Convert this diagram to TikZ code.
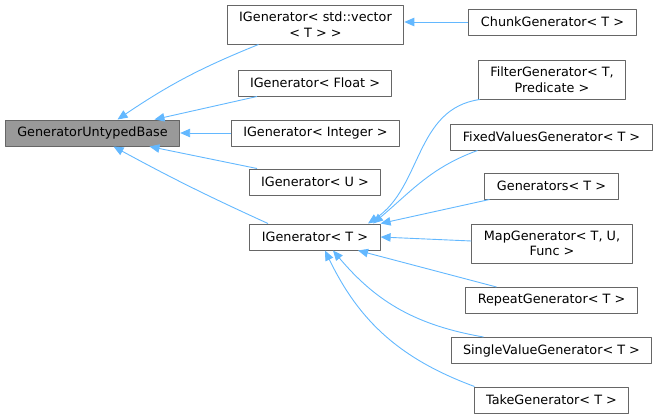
\documentclass[tikz,border=0pt]{standalone}
\usepackage{fontspec}
\setmainfont{DejaVu Sans}
\usetikzlibrary{arrows.meta, positioning, calc}

\definecolor{edgeblue}{HTML}{63B8FF}
\definecolor{boxborder}{HTML}{666666}
\definecolor{basefill}{HTML}{999999}

\begin{document}
\begin{tikzpicture}[x=1pt, y=1pt, >={Triangle[length=10pt, width=8.5pt]}, line join=round]
    % Styles
    \tikzset{
        classbox/.style={rectangle, draw=boxborder, line width=1pt, fill=white, text=black,
            inner xsep=12pt, minimum height=26pt, align=center, font=\fontsize{12.8}{15.5}\selectfont},
        basebox/.style={classbox, fill=basefill},
        tallbox/.style={classbox, minimum height=39pt},
        inherit/.style={<-, draw=edgeblue, line width=0.9pt}
    }

    \useasboundingbox (0,0) rectangle (659,-418);

    % --- Root class ---
    \node[basebox] (base) at (92.5,-133) {GeneratorUntypedBase};

    % --- IGenerator specialisations ---
    \node[tallbox]  (vec)     at (315.5,-24.5) {IGenerator< std::vector\\< T > >};
    \node[classbox] (float)   at (315,-83)     {IGenerator< Float >};
    \node[classbox] (integer) at (315.5,-133)  {IGenerator< Integer >};
    \node[classbox] (ugen)    at (315,-182)    {IGenerator< U >};
    \node[classbox] (tgen)    at (315,-237)    {IGenerator< T >};

    % --- Concrete generators ---
    \node[classbox] (chunk)  at (552.5,-22)   {ChunkGenerator< T >};
    \node[tallbox]  (filter) at (552,-79.5)   {FilterGenerator< T,\\Predicate >};
    \node[classbox] (fixed)  at (551.5,-137)  {FixedValuesGenerator< T >};
    \node[classbox] (gens)   at (551.5,-186)  {Generators< T >};
    \node[tallbox]  (map)    at (552,-243.5)  {MapGenerator< T, U,\\Func >};
    \node[classbox] (rep)    at (551.5,-300.5) {RepeatGenerator< T >};
    \node[classbox] (single) at (551.5,-350.5) {SingleValueGenerator< T >};
    \node[classbox] (take)   at (551.5,-400)  {TakeGenerator< T >};

    % --- Edges into GeneratorUntypedBase ---
    \draw[inherit] ([xshift=25pt]base.north) to[bend left=6] ([xshift=-57pt]vec.south);
    \draw[inherit] ([xshift=62pt]base.north) -- ([xshift=-58pt]float.south);
    \draw[inherit] (base.east) -- (integer.west);
    \draw[inherit] ([xshift=57pt]base.south) -- ([xshift=-58pt]ugen.north);
    \draw[inherit] ([xshift=21pt]base.south) to[bend right=2] ([xshift=-47pt]tgen.north);

    % --- Edge into IGenerator< std::vector< T > > ---
    \draw[inherit] (vec.east |- chunk.west) -- (chunk.west);

    % --- Edges into IGenerator< T > ---
    \draw[inherit] ([xshift=53pt]tgen.north) to[out=34, in=188] ([xshift=2pt]filter.south west);
    \draw[inherit] ([xshift=58pt]tgen.north) to[out=40, in=200] ([xshift=-74pt]fixed.south);
    \draw[inherit] (tgen.north east) -- ([xshift=-62pt]gens.south);
    \draw[inherit] (tgen.east) -- ([yshift=2.5pt]map.west);
    \draw[inherit] ([xshift=43pt]tgen.south) -- ([xshift=-55pt]rep.north);
    \draw[inherit] ([xshift=18pt]tgen.south) to[bend right=20] ([xshift=-68pt]single.north);
    \draw[inherit] ([xshift=10pt]tgen.south) to[bend right=22] ([xshift=-77pt]take.north);

\end{tikzpicture}
\end{document}
